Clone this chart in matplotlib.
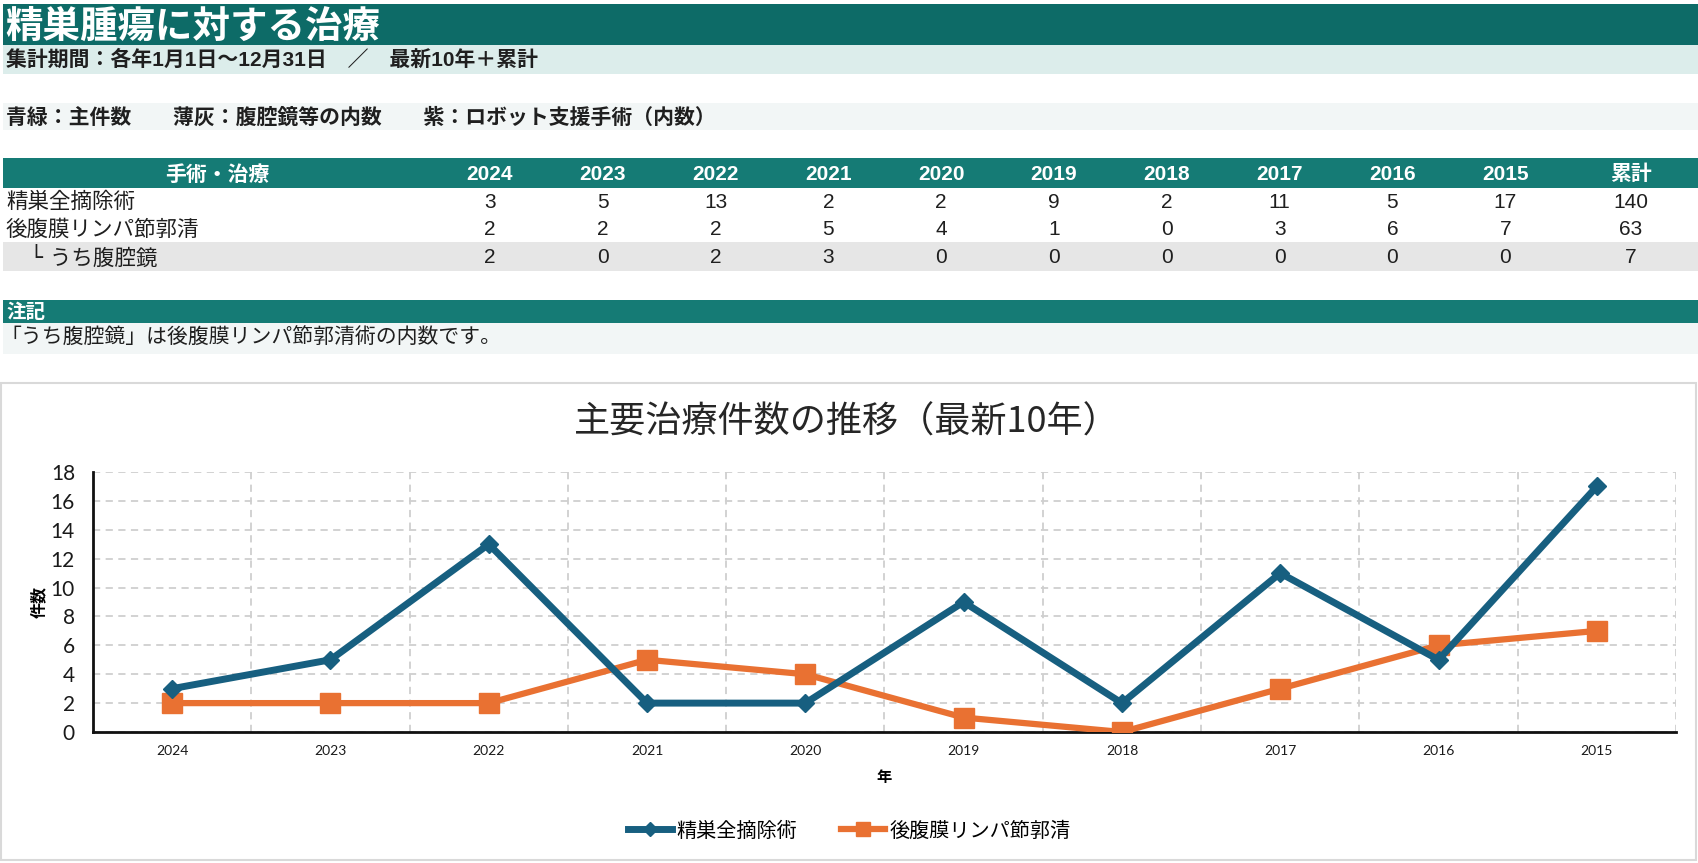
import matplotlib
matplotlib.use('Agg')
import matplotlib.pyplot as plt
from matplotlib.patches import Rectangle
from matplotlib.ticker import MultipleLocator, FixedLocator

# データ（最新10年＋累計）
years = ['2024', '2023', '2022', '2021', '2020', '2019', '2018', '2017', '2016', '2015']
row_names = ['精巣全摘除術', '後腹膜リンパ節郭清', '└ うち腹腔鏡']
orchiectomy = [3, 5, 13, 2, 2, 9, 2, 11, 5, 17]
rplnd = [2, 2, 2, 5, 4, 1, 0, 3, 6, 7]
laparoscopic = [2, 0, 2, 3, 0, 0, 0, 0, 0, 0]
totals = [140, 63, 7]

title = '精巣腫瘍に対する治療'
period = '集計期間：各年1月1日〜12月31日　／　最新10年＋累計'
color_note = '青緑：主件数　　薄灰：腹腔鏡等の内数　　紫：ロボット支援手術（内数）'
note_head = '注記'
note_text = '「うち腹腔鏡」は後腹膜リンパ節郭清術の内数です。'
chart_title = '主要治療件数の推移（最新10年）'

plt.rcParams['font.family'] = ['Liberation Sans', 'Noto Sans CJK JP', 'DejaVu Sans']
CJK = ['Noto Sans CJK JP', 'DejaVu Sans']
ROWLAB = ['DejaVu Sans', 'Noto Sans CJK JP']
CHART = ['Lato', 'Noto Sans CJK JP', 'DejaVu Sans']

W, H = 1698, 863
fig = plt.figure(figsize=(W / 100, H / 100), dpi=100)
bg = fig.add_axes([0, 0, 1, 1])
bg.set_xlim(0, W)
bg.set_ylim(H, 0)
bg.axis('off')

TEAL_DARK = '#0d6b67'
TEAL = '#157b75'
TEAL_LIGHT = '#dcedeb'
PALE = '#f2f6f6'
GRAY = '#e6e6e6'
TXT = '#1f1f1f'


def band(y0, y1, color, x0=3, x1=W):
    bg.add_patch(Rectangle((x0, y0), x1 - x0, y1 - y0, color=color, lw=0))


# 見出し
band(4, 45, TEAL_DARK)
bg.text(5, 26, title, color='white', fontsize=27, fontweight='bold', va='center', family=CJK)
band(45, 74, TEAL_LIGHT)
bg.text(6, 60, period, color=TXT, fontsize=15, fontweight='bold', va='center')
band(103, 130, PALE)
bg.text(6, 117, color_note, color=TXT, fontsize=15, fontweight='bold', va='center', family=CJK)

# 表
band(158, 188, TEAL)
col_x = [490 + i * 112.8 for i in range(len(years))]
total_x = 1631
bg.text(217, 174, '手術・治療', color='white', fontsize=15, fontweight='bold', ha='center', va='center', family=CJK)
for x, y in zip(col_x, years):
    bg.text(x, 174, y, color='white', fontsize=15, fontweight='bold', ha='center', va='center')
bg.text(total_x, 174, '累計', color='white', fontsize=15, fontweight='bold', ha='center', va='center', family=CJK)

band(242, 271, GRAY)
row_y = [202, 229, 257]
for yy, name, vals, tot in zip(row_y, row_names, [orchiectomy, rplnd, laparoscopic], totals):
    xname = 30 if name.startswith('└') else 6
    bg.text(xname, yy, name, color=TXT, fontsize=15.5, va='center', family=ROWLAB)
    for x, v in zip(col_x, vals):
        bg.text(x, yy, str(v), color=TXT, fontsize=15, ha='center', va='center')
    bg.text(total_x, yy, str(tot), color=TXT, fontsize=15, ha='center', va='center')

# 注記
band(300, 323, TEAL)
bg.text(6, 312, note_head, color='white', fontsize=14, fontweight='bold', va='center', family=CJK)
band(323, 354, PALE)
bg.text(0, 338, note_text, color=TXT, fontsize=15, va='center', family=CJK)

# グラフ枠
bg.add_patch(Rectangle((1, 383), W - 3, 477, facecolor='white', edgecolor='#d9d9d9', lw=1.5))
bg.text(847, 423, chart_title, color='#262626', fontsize=26, ha='center', va='center', family=CJK)

# グラフ
ax = fig.add_axes([93 / W, 1 - 732 / H, 1583 / W, 260 / H])
ax.set_facecolor('none')
xs = list(range(len(years)))
BLUE = '#175f80'
ORANGE = '#e97132'
ax.plot(xs, orchiectomy, color=BLUE, lw=5, marker='D', ms=9.5, label='精巣全摘除術', zorder=4)
ax.plot(xs, rplnd, color=ORANGE, lw=4.5, marker='s', ms=14, label='後腹膜リンパ節郭清', zorder=3)

ax.set_xlim(-0.5, len(years) - 0.5)
ax.set_ylim(0, 18)
ax.yaxis.set_major_locator(MultipleLocator(2))
ax.set_xticks(xs)
ax.set_xticklabels(years)
ax.xaxis.set_minor_locator(FixedLocator([i - 0.5 for i in range(len(years) + 1)]))
ax.grid(axis='y', which='major', ls=(0, (4, 3)), color='#cfcfcf', lw=1.3)
ax.grid(axis='x', which='minor', ls=(0, (4, 3)), color='#cfcfcf', lw=1.3)
ax.set_axisbelow(True)
for s in ['top', 'right']:
    ax.spines[s].set_visible(False)
for s in ['left', 'bottom']:
    ax.spines[s].set_linewidth(2)
    ax.spines[s].set_color('#111111')
ax.tick_params(axis='both', which='both', length=0)
ax.tick_params(axis='y', pad=13, labelsize=15, labelcolor='#1a1a1a')
ax.tick_params(axis='x', pad=9, labelsize=10, labelcolor='#1a1a1a')
for lab in ax.get_xticklabels() + ax.get_yticklabels():
    lab.set_family(CHART)
ax.set_xlabel('年', fontsize=11, fontweight='bold', family=CJK, labelpad=9)
ax.set_ylabel('件数', fontsize=11.5, fontweight='bold', family=CJK, labelpad=3)

fig.legend(loc='center', bbox_to_anchor=(849 / W, 1 - 831 / H), ncol=2, frameon=False,
           prop={'family': CJK, 'size': 14.5}, handlelength=2.2, handletextpad=0.2,
           columnspacing=2.2, markerscale=0.7)

fig.savefig('out.png', dpi=100)
